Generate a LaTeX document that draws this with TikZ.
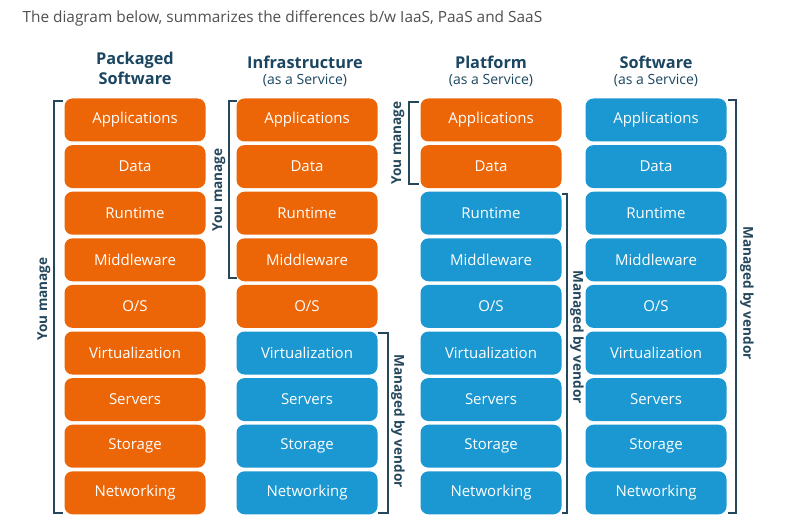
\documentclass[tikz,border=0pt]{standalone}
\usepackage{fontspec}
\setmainfont{Open Sans}
\begin{document}
\definecolor{stackorange}{HTML}{EC6608}
\definecolor{stackblue}{HTML}{1B98D1}
\definecolor{headnavy}{HTML}{1B4661}
\definecolor{bracketnavy}{HTML}{25475C}
\definecolor{titlegray}{HTML}{505050}
\begin{tikzpicture}[x=1pt,y=-1pt,
  layer/.style={rounded corners=8pt, minimum width=141pt, minimum height=43pt,
    inner sep=0pt, text=white, font=\fontsize{15}{17}\selectfont},
  own/.style={layer, fill=stackorange},
  vendor/.style={layer, fill=stackblue},
  colhead/.style={text=headnavy, align=center, font=\fontsize{16.3}{18}\bfseries\selectfont},
  colsub/.style={text=headnavy, font=\fontsize{14}{16}\selectfont},
  brace/.style={draw=bracketnavy, line width=1.6pt},
  bracelabel/.style={text=bracketnavy, font=\fontsize{13.6}{15}\bfseries\selectfont}]
\useasboundingbox (0,0) rectangle (801,524);
\fill[white] (0,0) rectangle (801,524);

\node[anchor=west, text=titlegray, font=\fontsize{15.4}{17}\selectfont] (title) at (19,18)
  {The diagram below, summarizes the differences b/w IaaS, PaaS and SaaS};

% column headers
\node[colhead] (h1a) at (135,60) {Packaged};
\node[colhead] (h1b) at (135,78) {Software};
\node[colhead] (h2a) at (305,62) {Infrastructure};
\node[colsub]  (h2b) at (305,80) {(as a Service)};
\node[colhead] (h3a) at (491,62) {Platform};
\node[colsub]  (h3b) at (491,80) {(as a Service)};
\node[colhead] (h4a) at (656,62) {Software};
\node[colsub]  (h4b) at (656,80) {(as a Service)};

% the four stacks, row by row
\foreach \lbl [count=\r] in {Applications,Data,Runtime,Middleware,O/S,Virtualization,Servers,Storage,Networking}{
  \pgfmathsetmacro{\yy}{120+46.6*(\r-1)}
  \ifnum\r<6 \def\stB{own}\else\def\stB{vendor}\fi
  \ifnum\r<3 \def\stC{own}\else\def\stC{vendor}\fi
  \node[own]   (c1-\r) at (135,\yy) {\lbl};
  \node[\stB]  (c2-\r) at (307,\yy) {\lbl};
  \node[\stC]  (c3-\r) at (491,\yy) {\lbl};
  \node[vendor](c4-\r) at (656,\yy) {\lbl};
}

% brackets: customer-managed on the left, vendor-managed on the right
\draw[brace] (63,101) -- (54,101) -- (54,513) -- (63,513);
\node[bracelabel, rotate=90] (b1) at (44,299) {You manage};

\draw[brace] (237,101) -- (229,101) -- (229,278) -- (237,278);
\node[bracelabel, rotate=90] (b2) at (219,190) {You manage};

\draw[brace] (378,333) -- (388,333) -- (388,513) -- (378,513);
\node[bracelabel, rotate=-90] (b3) at (398,421) {Managed by vendor};

\draw[brace] (419,102) -- (409,102) -- (409,184) -- (419,184);
\node[bracelabel, rotate=90] (b4) at (398,143) {You manage};

\draw[brace] (562,194) -- (567,194) -- (567,513) -- (562,513);
\node[bracelabel, rotate=-90] (b5) at (577,337) {Managed by vendor};

\draw[brace] (728,100) -- (736,100) -- (736,513) -- (728,513);
\node[bracelabel, rotate=-90] (b6) at (747,293) {Managed by vendor};
\end{tikzpicture}
\end{document}
